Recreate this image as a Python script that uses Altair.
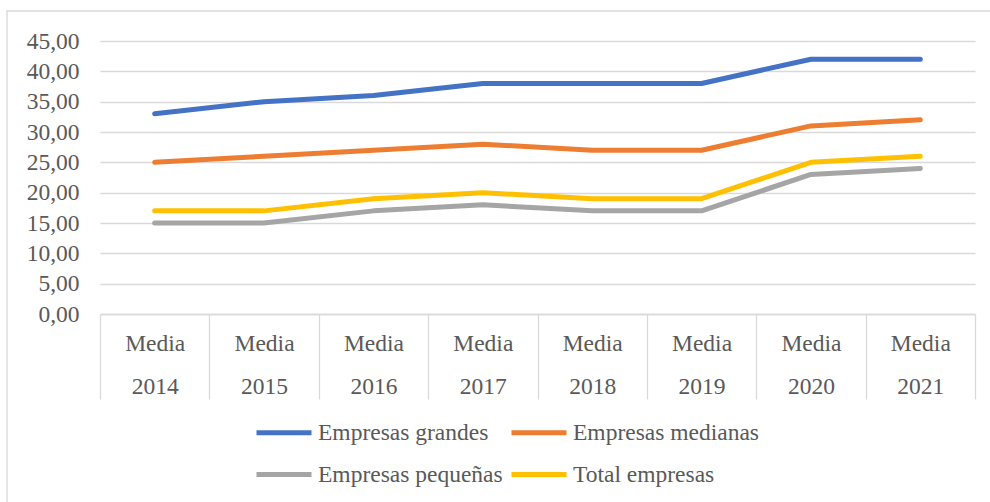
import altair as alt
import pandas as pd

categories = ["Media 2014", "Media 2015", "Media 2016", "Media 2017",
              "Media 2018", "Media 2019", "Media 2020", "Media 2021"]
series_names = ["Empresas grandes", "Empresas medianas", "Empresas pequeñas", "Total empresas"]
grandes = [33, 35, 36, 38, 38, 38, 42, 42]
medianas = [25, 26, 27, 28, 27, 27, 31, 32]
pequenas = [15, 15, 17, 18, 17, 17, 23, 24]
total = [17, 17, 19, 20, 19, 19, 25, 26]
colors = ["#4472C4", "#ED7D31", "#A5A5A5", "#FFC000"]
y_ticks = [0, 5, 10, 15, 20, 25, 30, 35, 40, 45]

rows = []
for name, vals in zip(series_names, [grandes, medianas, pequenas, total]):
    for c, v in zip(categories, vals):
        rows.append({"cat": c, "serie": name, "valor": v})
df = pd.DataFrame(rows)

FONT = "Liberation Serif"
FS = 23.5
TXT = "#595959"
GRID = "#d9d9d9"

border = alt.Chart(pd.DataFrame({"a": [0]})).mark_rect(
    fill=None, stroke=GRID, strokeWidth=1.3
).encode(
    x=alt.value(-93), x2=alt.value(1100), y=alt.value(-30), y2=alt.value(700)
)

lines = alt.Chart(df).mark_line(strokeWidth=5, strokeCap="round", strokeJoin="round").encode(
    x=alt.X("cat:N", sort=categories, bandPosition=0.5,
            scale=alt.Scale(type="band", paddingInner=0, paddingOuter=0),
            axis=alt.Axis(title=None, tickBand="extent", tickSize=85, tickColor=GRID,
                          tickWidth=1.3, domainColor=GRID, domainWidth=1.3,
                          labelAngle=0, labelFont=FONT, labelFontSize=FS, labelColor=TXT,
                          labelExpr="split(datum.label, ' ')", labelLineHeight=43,
                          labelBaseline="top", labelPadding=-68, grid=False)),
    y=alt.Y("valor:Q", scale=alt.Scale(domain=[0, 45], nice=False),
            axis=alt.Axis(title=None, values=y_ticks, domain=False, ticks=False,
                          gridColor=GRID, gridWidth=1.3,
                          labelExpr="replace(format(datum.value, '.2f'), '.', ',')",
                          labelFont=FONT, labelFontSize=FS, labelColor=TXT, labelPadding=21)),
    color=alt.Color("serie:N", sort=series_names,
                    scale=alt.Scale(domain=series_names, range=colors),
                    legend=alt.Legend(title=None, orient="none", legendX=154, legendY=361.5,
                                      direction="horizontal",
                                      columns=2, symbolType="stroke", symbolSize=3025,
                                      symbolStrokeWidth=5, labelFont=FONT, labelFontSize=FS,
                                      labelColor=TXT, labelOffset=4, columnPadding=-2,
                                      labelLimit=400,
                                      rowPadding=-12, padding=0)),
)

chart = alt.layer(border, lines).properties(
    width=875, height=273,
    autosize=alt.AutoSizeParams(type="none"),
    padding={"left": 100, "top": 41, "right": 15, "bottom": 188},
).configure_view(stroke=None)

chart.save("out.html", embed_options={"renderer": "svg", "actions": False})
